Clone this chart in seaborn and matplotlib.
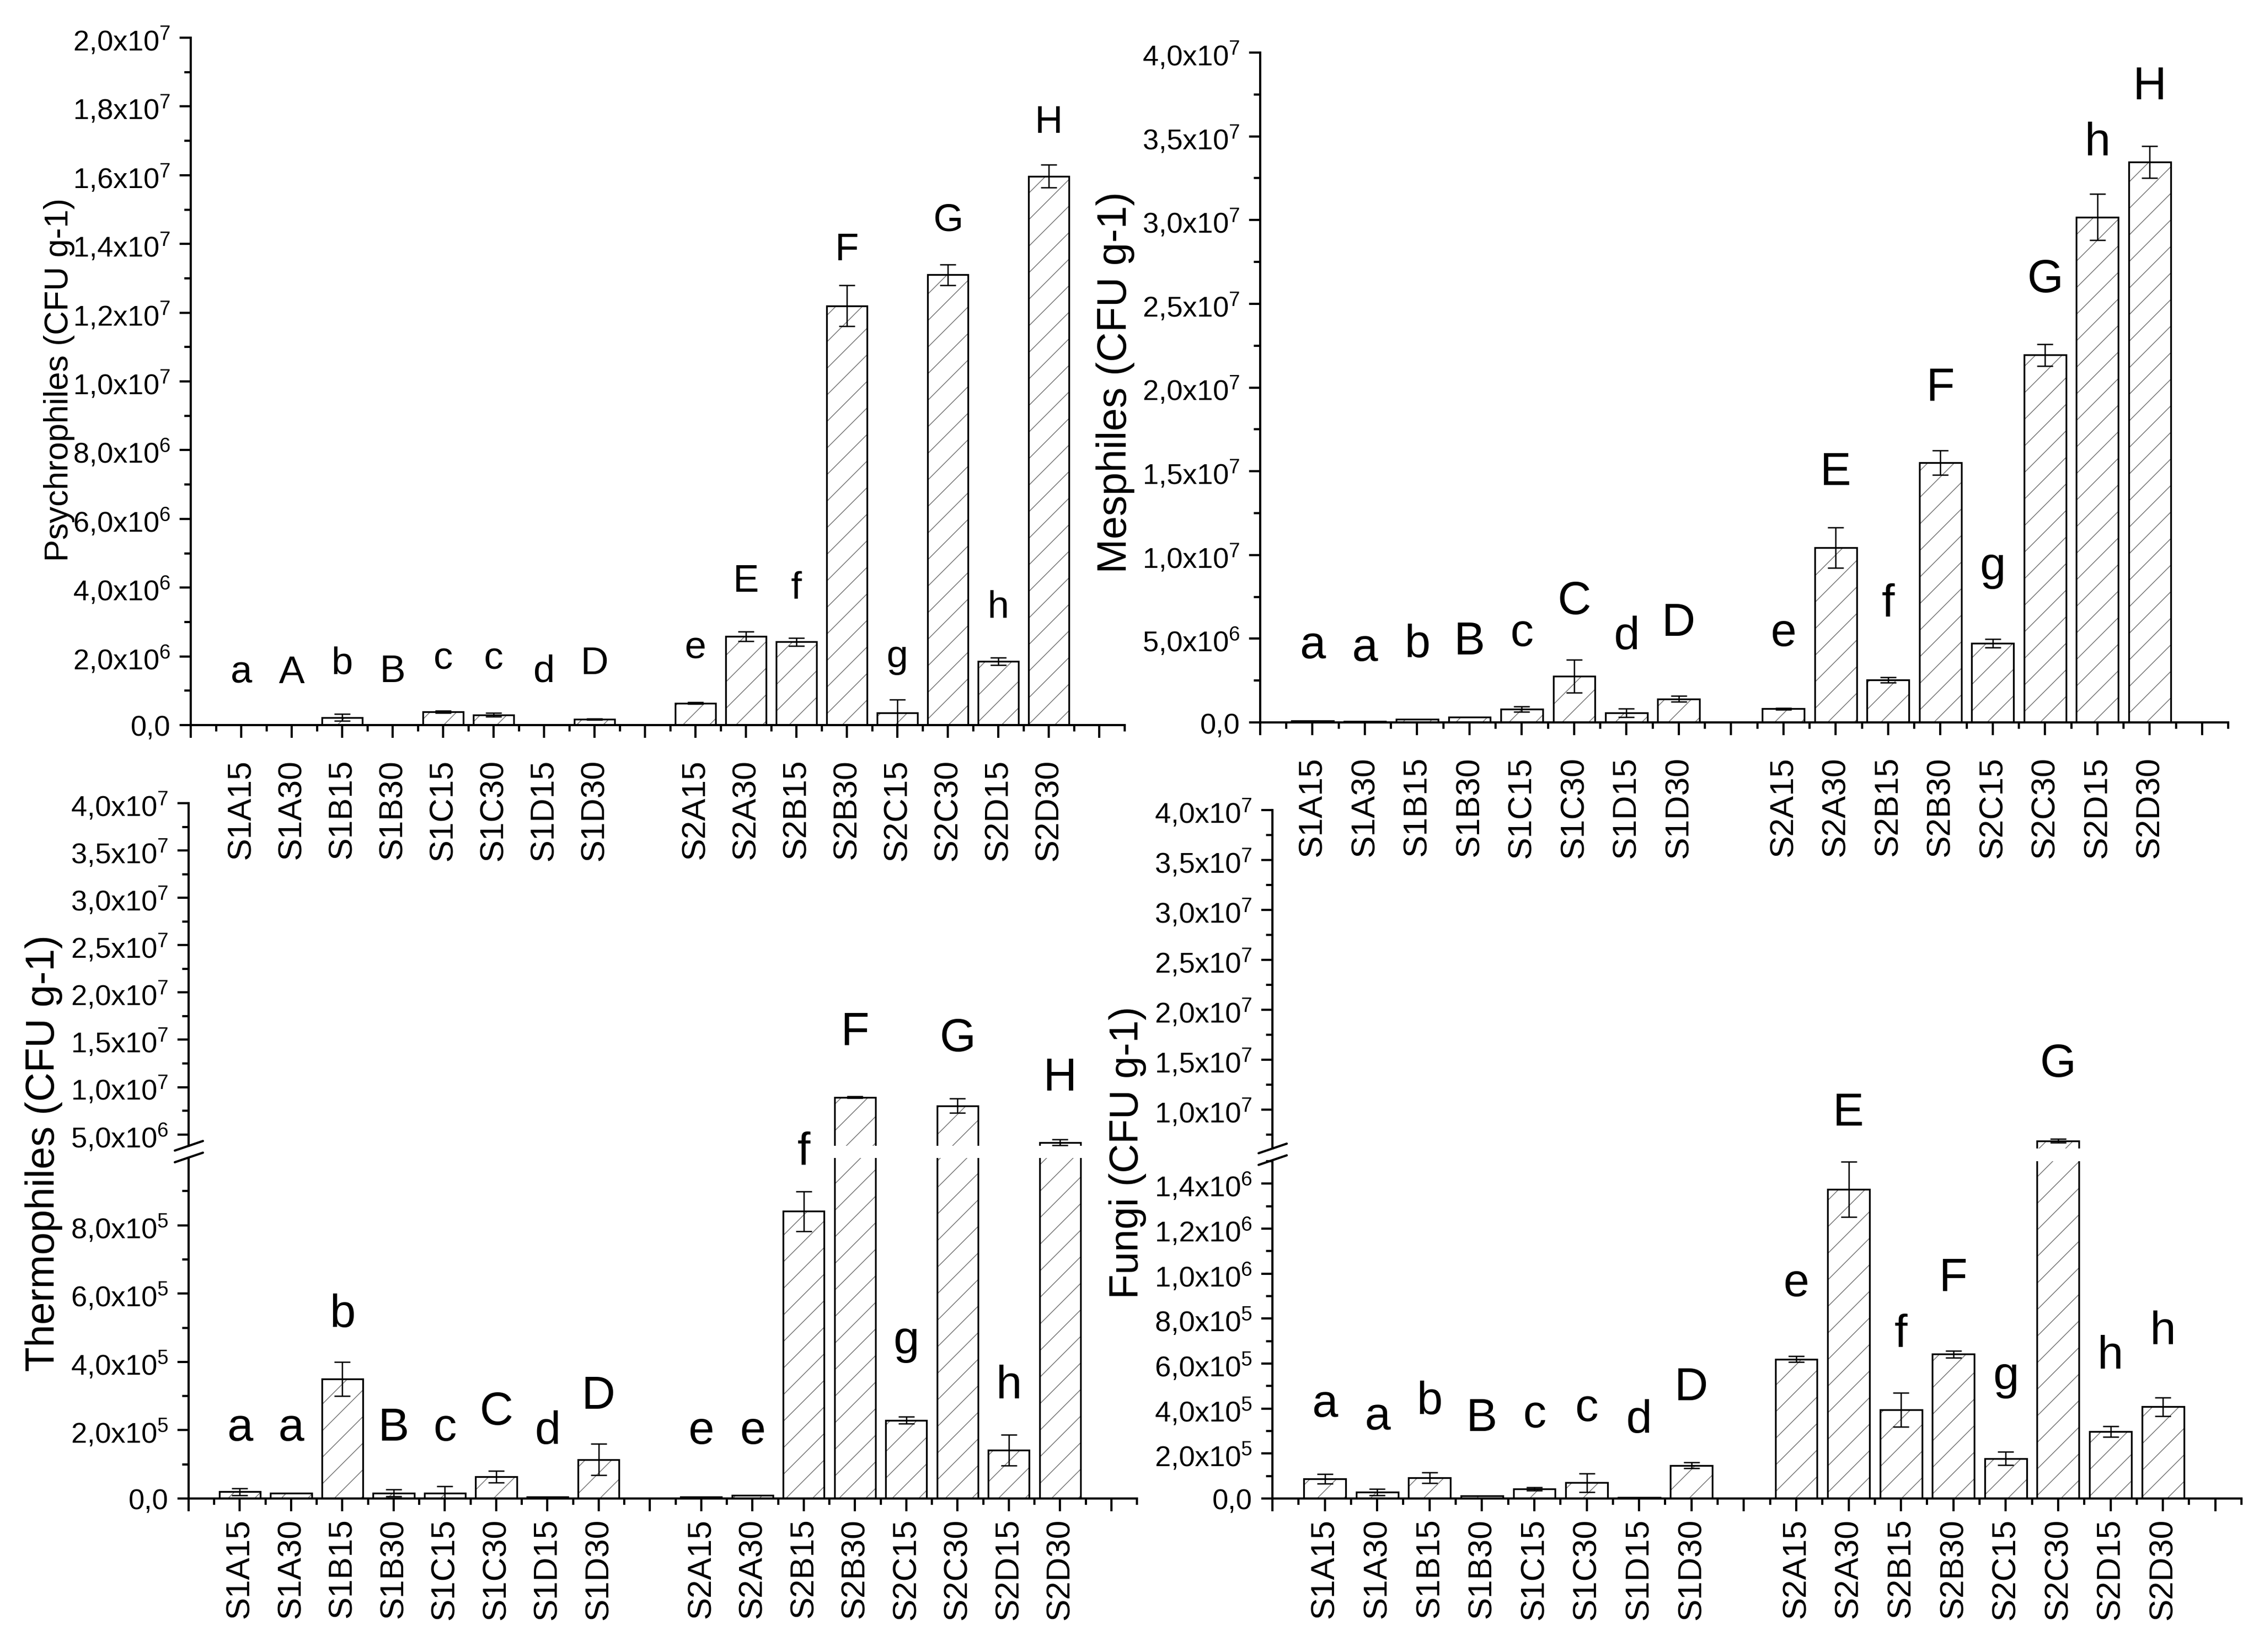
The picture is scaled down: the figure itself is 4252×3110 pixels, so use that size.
import numpy as np
import pandas as pd
import matplotlib
matplotlib.use('Agg')
import matplotlib.pyplot as plt
import matplotlib.colors as mcolors
from matplotlib.lines import Line2D
from matplotlib.ticker import MultipleLocator, FuncFormatter
import seaborn as sns

# ── Data ──────────────────────────────────────────────────────────────────────
samples = ['S1A15', 'S1A30', 'S1B15', 'S1B30', 'S1C15', 'S1C30', 'S1D15', 'S1D30',
           'S2A15', 'S2A30', 'S2B15', 'S2B30', 'S2C15', 'S2C30', 'S2D15', 'S2D30']

psy_mean = [0, 0, 2.2e5, 0, 3.9e5, 3.0e5, 0, 1.7e5,
            6.4e5, 2.58e6, 2.42e6, 1.22e7, 3.6e5, 1.31e7, 1.86e6, 1.597e7]
psy_err = [0, 0, 1.0e5, 0, 3e4, 5e4, 0, 1e4,
           2e4, 1.4e5, 1.1e5, 5.9e5, 3.8e5, 3.0e5, 1.1e5, 3.3e5]
psy_letters = ['a', 'A', 'b', 'B', 'c', 'c', 'd', 'D', 'e', 'E', 'f', 'F', 'g', 'G', 'h', 'H']
psy_letter_y = [1.24e6, 1.24e6, 1.5e6, 1.27e6, 1.64e6, 1.64e6, 1.27e6, 1.5e6,
                1.96e6, 3.89e6, 3.7e6, 1.354e7, 1.7e6, 1.44e7, 3.13e6, 1.725e7]

mes_mean = [8e4, 5e4, 1.8e5, 3.2e5, 7.9e5, 2.76e6, 5.6e5, 1.41e6,
            8.2e5, 1.044e7, 2.55e6, 1.551e7, 4.72e6, 2.194e7, 3.018e7, 3.346e7]
mes_err = [0, 0, 0, 0, 1.5e5, 9.7e5, 2.5e5, 1.8e5,
           5e4, 1.2e6, 1.6e5, 7.4e5, 2.6e5, 6.5e5, 1.38e6, 9.5e5]
mes_letters = ['a', 'a', 'b', 'B', 'c', 'C', 'd', 'D', 'e', 'E', 'f', 'F', 'g', 'G', 'h', 'H']
mes_letter_y = [3.87e6, 3.72e6, 3.93e6, 4.08e6, 4.6e6, 6.51e6, 4.4e6, 5.19e6,
                4.6e6, 1.422e7, 6.36e6, 1.927e7, 8.56e6, 2.572e7, 3.393e7, 3.724e7]

the_mean = [2.0e4, 1.6e4, 3.5e5, 1.6e4, 1.6e4, 6.4e4, 5e3, 1.14e5,
            5e3, 1.0e4, 8.41e5, 8.93e6, 2.29e5, 8.03e6, 1.42e5, 4.15e6]
the_err = [1e4, 0, 5e4, 1e4, 2e4, 1.7e4, 0, 4.6e4,
           0, 0, 5.8e4, 1e5, 1e4, 7.7e5, 4.5e4, 3e5]
the_letters = ['a', 'a', 'b', 'B', 'c', 'C', 'd', 'D', 'e', 'e', 'f', 'F', 'g', 'G', 'h', 'H']
the_letter_y = [1.71e5, 1.71e5, 5.04e5, 1.71e5, 1.71e5, 2.18e5, 1.62e5, 2.64e5,
                1.62e5, 1.62e5, 9.8e5, 1.453e7, 4.26e5, 1.383e7, 2.97e5, 9.68e6]

fun_mean = [8.75e4, 2.75e4, 9.25e4, 1.2e4, 4.25e4, 7.0e4, 5e3, 1.475e5,
            6.2e5, 1.375e6, 3.95e5, 6.42e5, 1.78e5, 6.86e6, 2.98e5, 4.08e5]
fun_err = [2.1e4, 1.4e4, 2.4e4, 0, 6e3, 4.1e4, 0, 1.2e4,
           1.2e4, 1.22e5, 7.6e4, 1.5e4, 3e4, 1.75e5, 2.4e4, 4.1e4]
fun_letters = ['a', 'a', 'b', 'B', 'c', 'c', 'd', 'D', 'e', 'E', 'f', 'F', 'g', 'G', 'h', 'h']
fun_letter_y = [3.65e5, 3.1e5, 3.78e5, 3.03e5, 3.2e5, 3.48e5, 2.95e5, 4.4e5,
                9.03e5, 8.42e6, 6.78e5, 9.28e5, 4.9e5, 1.333e7, 5.83e5, 6.9e5]

# ── Style ─────────────────────────────────────────────────────────────────────
sns.set_style('ticks')
plt.rcParams['font.family'] = ['Liberation Sans', 'DejaVu Sans']
plt.rcParams.update({
    'mathtext.default': 'regular',
    'axes.edgecolor': 'black',
    'axes.linewidth': 1.0,
    'text.color': 'black',
    'xtick.color': 'black',
    'ytick.color': 'black',
    'hatch.linewidth': 0.35,
    'xtick.direction': 'out',
    'ytick.direction': 'out',
})

W, H = 4252, 3111
DPI = 300
HATCH_GREY = '#6f6f6f'
fig = plt.figure(figsize=(W / DPI, H / DPI), dpi=DPI)

# slots 1..8 = site 1, gap at 9, slots 10..17 = site 2
pos = np.array([i + 1 if i < 8 else i + 2 for i in range(len(samples))], dtype=float)


def px_box(x0, x1, y_top, y_bot):
    return [x0 / W, 1 - y_bot / H, (x1 - x0) / W, (y_bot - y_top) / H]


def new_axes(x0, x1, y_top, y_bot):
    ax = fig.add_axes(px_box(x0, x1, y_top, y_bot))
    ax.patch.set_visible(False)   # neighbours' labels must show through
    return ax


def sci_fmt(v, _):
    if v < -0.5:
        return ''
    if abs(v) <= 0.5:
        return '0,0'
    e = int(np.floor(np.log10(v) + 1e-9))
    m = v / 10 ** e
    return f'{m:.1f}'.replace('.', ',') + f'x10$^{{{e}}}$'


def draw_bars(ax, means, errs):
    df = pd.DataFrame({'pos': pos, 'cfu': means})
    sns.barplot(data=df, x='pos', y='cfu', native_scale=True, width=0.8,
                color='white', edgecolor='black', linewidth=0.8,
                errorbar=None, ax=ax, zorder=2)
    for p in ax.patches:
        p.set_hatch('//')
        if hasattr(p, 'set_hatchcolor'):
            p.set_hatchcolor(HATCH_GREY)
        else:
            p._hatch_color = mcolors.to_rgba(HATCH_GREY)
    means = np.asarray(means)
    errs = np.asarray(errs)
    m = errs > 0
    ax.errorbar(pos[m], means[m], yerr=errs[m], fmt='none', ecolor='black',
                elinewidth=0.6, capsize=3.5, capthick=0.6, zorder=3)
    ax.set(xlabel='', ylabel='')


def style(ax, ylim, major, minor, show_x=True, xpad=3):
    ax.set_xlim(0, 18.5)
    ax.set_ylim(*ylim)
    sns.despine(ax=ax)
    ax.yaxis.set_major_locator(MultipleLocator(major))
    ax.yaxis.set_minor_locator(MultipleLocator(minor))
    ax.yaxis.set_major_formatter(FuncFormatter(sci_fmt))
    ax.tick_params(axis='y', which='major', length=5, width=1.0, labelsize=13, pad=4)
    ax.tick_params(axis='y', which='minor', length=2.8, width=1.0)
    if show_x:
        labels = [''] * 19
        for p, s in zip(pos, samples):
            labels[int(p)] = s
        ax.set_xticks(np.arange(19), labels=labels, rotation=90, fontsize=15)
        ax.xaxis.set_minor_locator(MultipleLocator(0.5))
        ax.tick_params(axis='x', which='major', length=5.8, width=1.0, pad=xpad)
        ax.tick_params(axis='x', which='minor', length=2.9, width=1.0)
    else:
        ax.spines['bottom'].set_visible(False)
        ax.tick_params(axis='x', which='both', bottom=False, labelbottom=False)


def add_letters(ax_lo, ax_hi, letters, ys, size=21):
    top = ax_lo.get_ylim()[1]
    for p, lab, y in zip(pos, letters, ys):
        target = ax_hi if (ax_hi is not None and y > top) else ax_lo
        target.text(p, y, lab, ha='center', va='baseline', fontsize=size, zorder=4)


def break_marks(x_px, y_list):
    for y in y_list:
        fig.add_artist(Line2D([(x_px - 26) / W, (x_px + 27) / W],
                              [1 - (y + 9) / H, 1 - (y - 9) / H],
                              color='black', lw=1.0))


# ── Psychrophiles (top left) ─────────────────────────────────────────────────
ax_psy = new_axes(359, 2117, 72, 1366)
draw_bars(ax_psy, psy_mean, psy_err)
style(ax_psy, (0, 2e7), 2e6, 1e6, xpad=9.5)
add_letters(ax_psy, None, psy_letters, psy_letter_y, size=17.5)

# ── Mesophiles (top right) ───────────────────────────────────────────────────
ax_mes = new_axes(2372, 4194, 100, 1361)
draw_bars(ax_mes, mes_mean, mes_err)
style(ax_mes, (0, 4e7), 5e6, 2.5e6, xpad=9.5)
add_letters(ax_mes, None, mes_letters, mes_letter_y)

# ── Thermophiles (bottom left, broken axis) ──────────────────────────────────
ax_the_lo = new_axes(355, 2140, 2181, 2822)
ax_the_hi = new_axes(355, 2140, 1513, 2158)
for a in (ax_the_lo, ax_the_hi):
    draw_bars(a, the_mean, the_err)
style(ax_the_lo, (0, 9.97e5), 2e5, 1e5, xpad=3)
style(ax_the_hi, (3.8e6, 4e7), 5e6, 2.5e6, show_x=False)
add_letters(ax_the_lo, ax_the_hi, the_letters, the_letter_y)
break_marks(355, [2158, 2180])

# ── Fungi (bottom right, broken axis) ────────────────────────────────────────
ax_fun_lo = new_axes(2395, 4219, 2187, 2822)
ax_fun_hi = new_axes(2395, 4219, 1526, 2163)
for a in (ax_fun_lo, ax_fun_hi):
    draw_bars(a, fun_mean, fun_err)
style(ax_fun_lo, (0, 1.5e6), 2e5, 1e5, xpad=3)
style(ax_fun_hi, (6.1e6, 4e7), 5e6, 2.5e6, show_x=False)
add_letters(ax_fun_lo, ax_fun_hi, fun_letters, fun_letter_y)
break_marks(2395, [2163, 2185])

# ── Axis titles ──────────────────────────────────────────────────────────────
fig.text(112 / W, 1 - 715 / H, 'Psychrophiles (CFU g-1)', rotation=90,
         ha='center', va='center', fontsize=15)
fig.text(2100 / W, 1 - 720 / H, 'Mesphiles (CFU g-1)', rotation=90,
         ha='center', va='center', fontsize=18.7)
fig.text(83 / W, 1 - 2171 / H, 'Thermophiles (CFU g-1)', rotation=90,
         ha='center', va='center', fontsize=18.3)
fig.text(2123 / W, 1 - 2170 / H, 'Fungi (CFU g-1)', rotation=90,
         ha='center', va='center', fontsize=18.3)

fig.savefig('out.png', dpi=DPI, facecolor='white')
